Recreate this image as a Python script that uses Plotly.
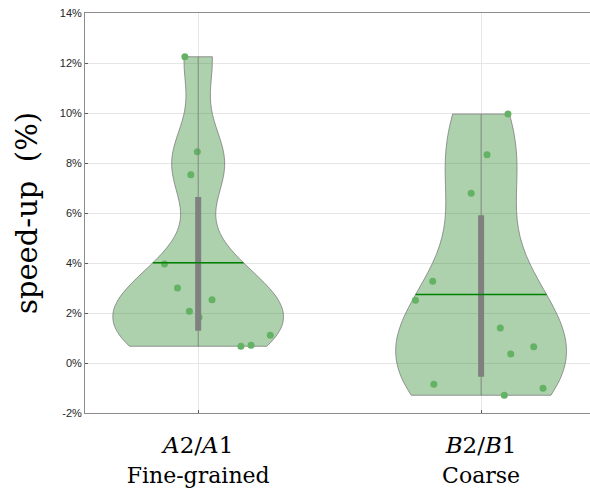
import numpy as np
import plotly.graph_objects as go

# ---- data ----
categories = ["A2/A1", "B2/B1"]
cat_pos = [1, 2]
subtitles = ["Fine-grained", "Coarse"]

vals_a = [12.25, 8.45, 7.53, 3.96, 3.00, 2.53, 2.07, 1.83, 1.11, 0.71, 0.67]
jit_a = [-0.047, -0.003, -0.026, -0.119, -0.073, 0.049, -0.031, 0.003, 0.255, 0.187, 0.151]

vals_b = [9.96, 8.33, 6.79, 3.27, 2.51, 1.40, 0.65, 0.36, -0.85, -1.01, -1.29]
jit_b = [0.095, 0.021, -0.035, -0.171, -0.232, 0.068, 0.186, 0.105, -0.167, 0.219, 0.082]

ytickvals = [-2, 0, 2, 4, 6, 8, 10, 12, 14]
yticktext = ["-2%", "0%", "2%", "4%", "6%", "8%", "10%", "12%", "14%"]

series = [(vals_a, jit_a), (vals_b, jit_b)]

FILL = "rgba(20,120,20,0.35)"
EDGE = "rgba(120,120,120,0.75)"
PT = "rgb(100,178,100)"
BOXC = "rgb(128,128,128)"
MEANC = "rgb(0,128,0)"
VWIDTH = 0.6


def ksd_bandwidth(v):
    v = np.asarray(v, float)
    sig = np.median(np.abs(v - np.median(v))) / 0.6745
    return sig * (4.0 / (3.0 * len(v))) ** 0.2


def kde(v, bw, t):
    v = np.asarray(v, float)
    return np.exp(-0.5 * ((t - v) / bw) ** 2).sum()


def max_kde(v, bw):
    lo, hi = min(v), max(v)
    n = int(np.ceil((hi - lo) / (bw / 3)))
    ts = np.linspace(lo, hi, n + 1)
    return max(kde(v, bw, t) for t in ts)


def mquant(v, p):
    s = np.sort(np.asarray(v, float))
    n = len(s)
    pos = p * n + 0.5
    i = int(np.floor(pos))
    f = pos - i
    i = min(max(i, 1), n - 1)
    return s[i - 1] + f * (s[i] - s[i - 1])


fig = go.Figure()

for (vals, jit), xc in zip(series, cat_pos):
    fig.add_trace(go.Violin(
        x=[xc] * len(vals), y=vals,
        bandwidth=ksd_bandwidth(vals),
        spanmode="hard", scalemode="width", width=VWIDTH,
        fillcolor=FILL, line=dict(color=EDGE, width=1),
        points=False, box_visible=False, meanline_visible=False,
        showlegend=False, hoverinfo="skip",
    ))

for (vals, jit), xc in zip(series, cat_pos):
    fig.add_trace(go.Scatter(
        x=[xc + j for j in jit], y=vals, mode="markers",
        marker=dict(color=PT, size=7, line=dict(width=0)),
        showlegend=False, hoverinfo="skip",
    ))

for (vals, jit), xc in zip(series, cat_pos):
    bw = ksd_bandwidth(vals)
    m = float(np.mean(vals))
    hw = VWIDTH / 2 * kde(vals, bw, m) / max_kde(vals, bw)
    # whisker (min to max)
    fig.add_trace(go.Scatter(
        x=[xc, xc], y=[min(vals), max(vals)], mode="lines",
        line=dict(color="rgba(128,128,128,0.8)", width=1),
        showlegend=False, hoverinfo="skip",
    ))
    # interquartile box
    fig.add_trace(go.Scatter(
        x=[xc, xc], y=[mquant(vals, 0.25), mquant(vals, 0.75)], mode="lines",
        line=dict(color=BOXC, width=6),
        showlegend=False, hoverinfo="skip",
    ))
    # mean line
    fig.add_trace(go.Scatter(
        x=[xc - hw, xc + hw], y=[m, m], mode="lines",
        line=dict(color=MEANC, width=1.6),
        showlegend=False, hoverinfo="skip",
    ))

ticktext = [
    f"<i>{c[0]}</i>{c[1]}/<i>{c[3]}</i>{c[4]}<br><span style='font-size:22px'>{s}</span>"
    for c, s in zip(categories, subtitles)
]

fig.update_layout(
    width=590, height=493,
    margin=dict(l=85, r=0, t=13, b=80),
    paper_bgcolor="white", plot_bgcolor="white",
    xaxis=dict(
        range=[0.6, 2.385], tickvals=cat_pos, ticktext=ticktext,
        showgrid=True, gridcolor="rgb(230,230,230)", gridwidth=1,
        zeroline=False, showline=True, linecolor="rgb(140,140,140)", linewidth=1,
        mirror=True, ticks="inside", ticklen=3, tickcolor="rgb(90,90,90)",
        ticklabelstandoff=11,
        tickfont=dict(family="DejaVu Serif", size=23, color="black"),
    ),
    yaxis=dict(
        range=[-2, 14], tickvals=ytickvals, ticktext=yticktext,
        showgrid=True, gridcolor="rgb(230,230,230)", gridwidth=1,
        zeroline=False, showline=True, linecolor="rgb(140,140,140)", linewidth=1,
        mirror=True, ticks="inside", ticklen=3, tickcolor="rgb(90,90,90)",
        tickfont=dict(family="Liberation Sans", size=11, color="rgb(38,38,38)"),
        title=dict(text="speed-up&nbsp; (%)", font=dict(family="DejaVu Serif", size=29, color="black"),
                   standoff=13),
    ),
)

fig.write_html("out.html")
